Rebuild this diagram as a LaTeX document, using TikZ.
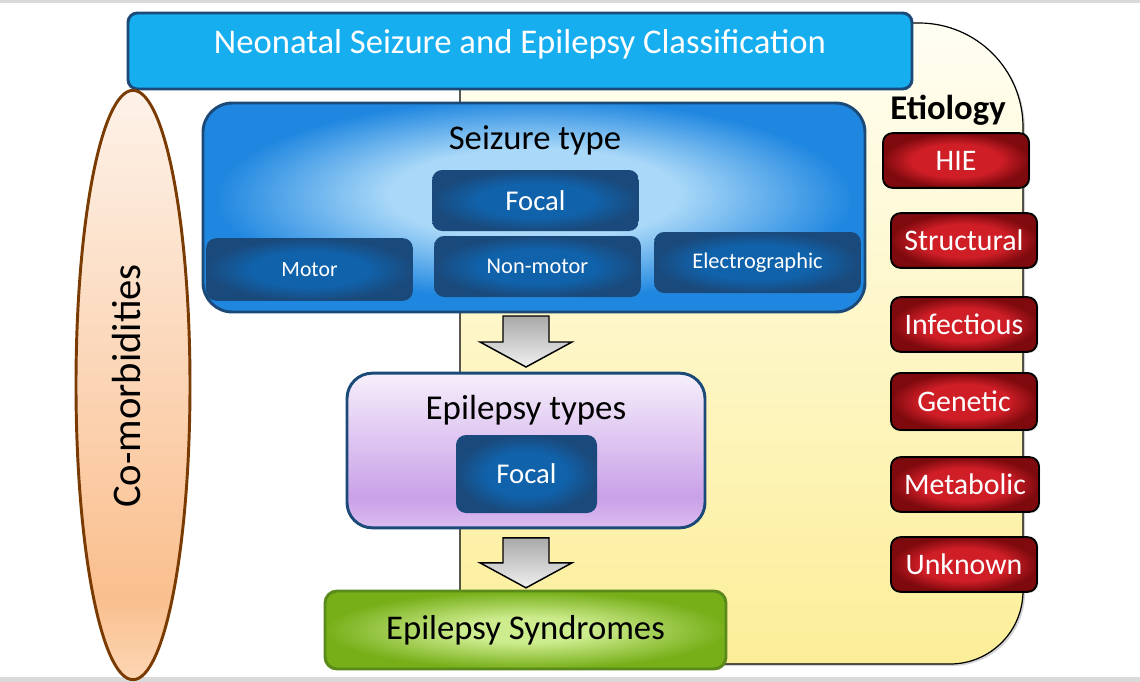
\documentclass[tikz,border=0pt]{standalone}
\usepackage{fontspec}
\setmainfont{Carlito}
\usetikzlibrary{shapes.geometric,shadows,calc}

\definecolor{navy}{HTML}{1B4A78}
\definecolor{titleblue}{HTML}{16AEEF}
\definecolor{sLight}{HTML}{A9D8F8}
\definecolor{sDark}{HTML}{2087E0}
\definecolor{bIn}{HTML}{1062AB}
\definecolor{bOut}{HTML}{1A4A7C}
\definecolor{rIn}{HTML}{D01E27}
\definecolor{rOut}{HTML}{7E0A0E}
\definecolor{gIn}{HTML}{CDEC8E}
\definecolor{gOut}{HTML}{77AF19}
\definecolor{gBorder}{HTML}{5A8A1C}
\definecolor{eBot}{HTML}{DBBCEF}
\definecolor{eMid}{HTML}{C9A1E8}
\definecolor{eTop}{HTML}{F6EFFB}
\definecolor{oBot}{HTML}{FCD6B4}
\definecolor{oMid}{HTML}{FABF8E}
\definecolor{oTop}{HTML}{FDF2E9}
\definecolor{oBorder}{HTML}{7A3B02}
\definecolor{yBot}{HTML}{FCEE98}
\definecolor{yTop}{HTML}{FFFEF3}
\definecolor{arTop}{HTML}{A9A9A9}
\definecolor{arBot}{HTML}{F0F0F0}
\definecolor{strip}{HTML}{D9D9D9}

\pgfdeclareradialshading{seizshade}{\pgfpoint{0bp}{4bp}}{color(0bp)=(sLight); color(11bp)=(sLight); color(24bp)=(sDark); color(50bp)=(sDark)}
\pgfdeclareradialshading{innershade}{\pgfpoint{0bp}{0bp}}{color(0bp)=(bIn); color(14bp)=(bIn); color(25bp)=(bOut); color(50bp)=(bOut)}
\pgfdeclareradialshading{redshade}{\pgfpoint{0bp}{0bp}}{color(0bp)=(rIn); color(15bp)=(rIn); color(25bp)=(rOut); color(50bp)=(rOut)}
\pgfdeclareradialshading{greenshade}{\pgfpoint{0bp}{0bp}}{color(0bp)=(gIn); color(8bp)=(gIn); color(25bp)=(gOut); color(50bp)=(gOut)}
\pgfdeclareverticalshading{epishade}{100bp}{color(0bp)=(eBot); color(25bp)=(eBot); color(35bp)=(eMid); color(75bp)=(eTop); color(100bp)=(eTop)}
\pgfdeclareverticalshading{orangeshade}{100bp}{color(0bp)=(oBot); color(25bp)=(oBot); color(32bp)=(oMid); color(75bp)=(oTop); color(100bp)=(oTop)}
\pgfdeclareverticalshading{yellowshade}{100bp}{color(0bp)=(yBot); color(25bp)=(yBot); color(75bp)=(yTop); color(100bp)=(yTop)}
\pgfdeclareverticalshading{grayshade}{100bp}{color(0bp)=(arBot); color(25bp)=(arBot); color(75bp)=(arTop); color(100bp)=(arTop)}

\newcommand{\fsz}[1]{\fontsize{#1}{#1}\selectfont}

\begin{document}
\begin{tikzpicture}[x=0.75pt,y=-0.75pt,
  every node/.style={inner sep=0pt,outer sep=0pt},
  titlebox/.style={draw=navy,line width=2.2pt,fill=titleblue,rounded corners=7pt},
  seizbox/.style={draw=navy,line width=2.2pt,shading=seizshade,rounded corners=22pt},
  innerbox/.style={shading=innershade,rounded corners=7.5pt},
  epibox/.style={draw=navy,line width=2.2pt,shading=epishade,rounded corners=19pt},
  synbox/.style={draw=gBorder,line width=2.2pt,shading=greenshade,rounded corners=9pt},
  redbox/.style={draw=black,line width=1.4pt,shading=redshade,rounded corners=7pt,
    text=white,font=\fsz{22.4},minimum width=109.5pt,minimum height=41pt,
    drop shadow={opacity=0.25,shadow xshift=1pt,shadow yshift=-1pt}},
  whitetext/.style={text=white},
  blacktext/.style={text=black},
  grayarrow/.style={draw=black,line width=1.1pt,shading=grayshade}
]
\useasboundingbox (0,0) rectangle (1140,682);
\fill[strip] (0,0) rectangle (1140,3);
\fill[strip] (0,677) rectangle (1140,682);

% etiology background
\path[draw=black,line width=0.9pt,shading=yellowshade,
      drop shadow={opacity=0.35,shadow xshift=1.5pt,shadow yshift=-1.5pt}]
  (460,53) -- (460,640) .. controls (460,653.25) and (470.75,664) .. (484,664)
  -- (950,664) .. controls (990.3,664) and (1023,631.3) .. (1023,591)
  -- (1023,127) .. controls (1023,69.6) and (976.4,23) .. (919,23)
  -- (490,23) .. controls (473.4,23) and (460,36.4) .. (460,53) -- cycle;

% title
\node[titlebox,minimum width=588pt,minimum height=57pt] (title) at (520,51) {};
\node[whitetext,font=\fsz{26}] (titletext) at (520,44) {Neonatal Seizure and Epilepsy Classification};

% co-morbidities
\node[ellipse,draw=oBorder,line width=2.2pt,shading=orangeshade,
      minimum width=85.5pt,minimum height=442pt] (comorb) at (133,385) {};
\node[blacktext,rotate=90,font=\fsz{30.5}] (comorbtext) at (127,386) {Co-morbidities};

% seizure type
\node[seizbox,minimum width=496.5pt,minimum height=156.75pt] (seiz) at (534,207.5) {};
\node[blacktext,font=\fsz{26}] (seiztext) at (535,140) {Seizure type};
\node[innerbox,whitetext,font=\fsz{21.5},minimum width=155pt,minimum height=45.75pt] (focal1) at (535.5,200.5) {Focal};
\node[innerbox,whitetext,font=\fsz{16.3},minimum width=155pt,minimum height=47pt] (motor) at (309.5,269.5) {Motor};
\node[innerbox,whitetext,font=\fsz{16.8},minimum width=155pt,minimum height=45.75pt] (nonmotor) at (537.5,266.5) {Non-motor};
\node[innerbox,whitetext,font=\fsz{16.8},minimum width=155pt,minimum height=45.75pt] (electro) at (757.5,262.5) {Electrographic};

% epilepsy types
\node[epibox,minimum width=268.5pt,minimum height=116pt] (epi) at (526,450.5) {};
\node[blacktext,font=\fsz{26.2}] (epitext) at (526,410) {Epilepsy types};
\node[innerbox,whitetext,font=\fsz{21.5},minimum width=105.75pt,minimum height=58.5pt] (focal2) at (526.5,474) {Focal};

% syndromes
\node[synbox,blacktext,font=\fsz{26},minimum width=300.75pt,minimum height=58.5pt] (syn) at (525.5,630) {Epilepsy Syndromes};

% block arrows
\coordinate (a1) at (seiz.south -| epi.north);
\coordinate (a2) at (epi.south);
\path[grayarrow] ($(a1)+(-23,4)$) -- ++(46,0) -- ++(0,26) -- ++(23,0) -- ++(-46,25) -- ++(-46,-25) -- ++(23,0) -- cycle;
\path[grayarrow] ($(a2)+(-23,10)$) -- ++(46,0) -- ++(0,25) -- ++(23,0) -- ++(-46,25) -- ++(-46,-25) -- ++(23,0) -- cycle;

% etiology
\node[blacktext,font=\fsz{26}\bfseries] (etio) at (948,110) {Etiology};
\node[redbox] (hie) at (956,160.5) {HIE};
\node[redbox] (struct) at (964,240.5) {Structural};
\node[redbox] (infect) at (964,324.5) {Infectious};
\node[redbox,minimum height=42.75pt] (genetic) at (964,401.5) {Genetic};
\node[redbox,minimum width=111pt] (metab) at (965,484.5) {Metabolic};
\node[redbox] (unknown) at (964,564.5) {Unknown};
\end{tikzpicture}
\end{document}
